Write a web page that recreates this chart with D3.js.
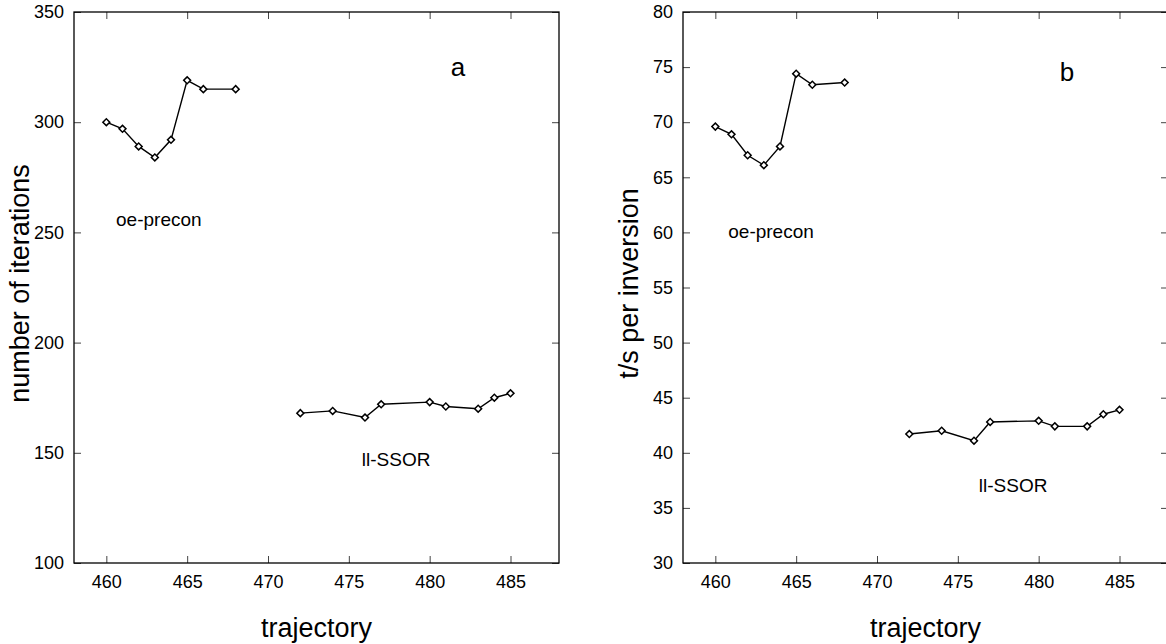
<!DOCTYPE html>
<html lang="en">
<head>
    <meta charset="UTF-8">
    <title>Iterations and time per inversion vs trajectory</title>
    <script src="https://d3js.org/d3.v7.min.js"></script>
    <style>
        body { margin: 0; background: #fff; }
        svg { display: block; font-family: "Liberation Sans", Arial, sans-serif; }
        .tick line { stroke: #444; stroke-width: 1px; }
        .tick text { font-size: 18px; fill: #000; }
        .frame { fill: none; stroke: #000; stroke-width: 1.3px; }
        .series { fill: none; stroke: #000; stroke-width: 1.4px; }
        .marker { fill: #fff; stroke: #000; stroke-width: 1.5px; }
    </style>
</head>
<body>
    <div id="chart"></div>

    <script>
        // data
        const trajOe = [460, 461, 462, 463, 464, 465, 466, 468];
        const trajSsor = [472, 474, 476, 477, 480, 481, 483, 484, 485];

        const itersOe = [300, 297, 289, 284, 292, 319, 315, 315];
        const itersSsor = [168, 169, 166, 172, 173, 171, 170, 175, 177];

        const timeOe = [69.6, 68.9, 67.0, 66.1, 67.8, 74.4, 73.4, 73.6];
        const timeSsor = [41.7, 42.0, 41.1, 42.8, 42.9, 42.4, 42.4, 43.5, 43.9];

        const xTicks = [460, 465, 470, 475, 480, 485];
        const iterTicks = [100, 150, 200, 250, 300, 350];
        const timeTicks = [30, 35, 40, 45, 50, 55, 60, 65, 70, 75, 80];

        const width = 1166;
        const height = 644;
        const plotW = 485;
        const plotH = 551;
        const plotTop = 12;

        const svg = d3.select("#chart")
            .append("svg")
            .attr("width", width)
            .attr("height", height);

        const panels = [
            {
                left: 74, yDomain: [100, 350], yTicks: iterTicks,
                yLabel: "number of iterations", tag: "a",
                oe: itersOe, ssor: itersSsor,
                oePos: [460.6, 253], ssorPos: [475.8, 144], tagPos: [481.3, 321]
            },
            {
                left: 683, yDomain: [30, 80], yTicks: timeTicks,
                yLabel: "t/s per inversion", tag: "b",
                oe: timeOe, ssor: timeSsor,
                oePos: [460.8, 59.5], ssorPos: [476.3, 36.4], tagPos: [481.3, 73.7]
            }
        ];

        panels.forEach(p => {
            const g = svg.append("g")
                .attr("transform", `translate(${p.left}, ${plotTop})`);

            const x = d3.scaleLinear().domain([458, 488]).range([0, plotW]);
            const y = d3.scaleLinear().domain(p.yDomain).range([plotH, 0]);

            // ticks point inward on all four sides
            g.append("g")
                .attr("transform", `translate(0, ${plotH})`)
                .call(d3.axisBottom(x).tickValues(xTicks).tickSizeInner(-7).tickSizeOuter(0).tickPadding(12));
            g.append("g")
                .call(d3.axisTop(x).tickValues(xTicks).tickSizeInner(-7).tickSizeOuter(0).tickFormat(""));
            g.append("g")
                .call(d3.axisLeft(y).tickValues(p.yTicks).tickSizeInner(-7).tickSizeOuter(0).tickPadding(10));
            g.append("g")
                .attr("transform", `translate(${plotW}, 0)`)
                .call(d3.axisRight(y).tickValues(p.yTicks).tickSizeInner(-7).tickSizeOuter(0).tickFormat(""));
            g.selectAll(".domain").remove();

            g.append("rect")
                .attr("class", "frame")
                .attr("width", plotW)
                .attr("height", plotH);

            const line = d3.line()
                .x(d => x(d[0]))
                .y(d => y(d[1]));
            // small open diamonds: a square turned 45 degrees
            const diamond = d3.symbol().type(d3.symbolSquare).size(24);

            [[trajOe, p.oe], [trajSsor, p.ssor]].forEach(([xs, ys]) => {
                const pts = xs.map((v, i) => [v, ys[i]]);
                g.append("path")
                    .attr("class", "series")
                    .attr("d", line(pts));
                g.selectAll(null)
                    .data(pts)
                    .join("path")
                    .attr("class", "marker")
                    .attr("transform", d => `translate(${x(d[0])}, ${y(d[1])}) rotate(45)`)
                    .attr("d", diamond);
            });

            // annotations
            g.append("text")
                .attr("x", x(p.oePos[0])).attr("y", y(p.oePos[1]))
                .attr("font-size", 19)
                .text("oe-precon");
            g.append("text")
                .attr("x", x(p.ssorPos[0])).attr("y", y(p.ssorPos[1]))
                .attr("font-size", 19)
                .text("ll-SSOR");
            g.append("text")
                .attr("x", x(p.tagPos[0])).attr("y", y(p.tagPos[1]))
                .attr("font-size", 26)
                .text(p.tag);

            // axis titles
            g.append("text")
                .attr("x", plotW / 2)
                .attr("y", 625)
                .attr("text-anchor", "middle")
                .attr("font-size", 27)
                .text("trajectory");
            g.append("text")
                .attr("transform", `translate(-45, ${plotH / 2 - 4}) rotate(-90)`)
                .attr("text-anchor", "middle")
                .attr("font-size", 27)
                .text(p.yLabel);
        });
    </script>
</body>
</html>
